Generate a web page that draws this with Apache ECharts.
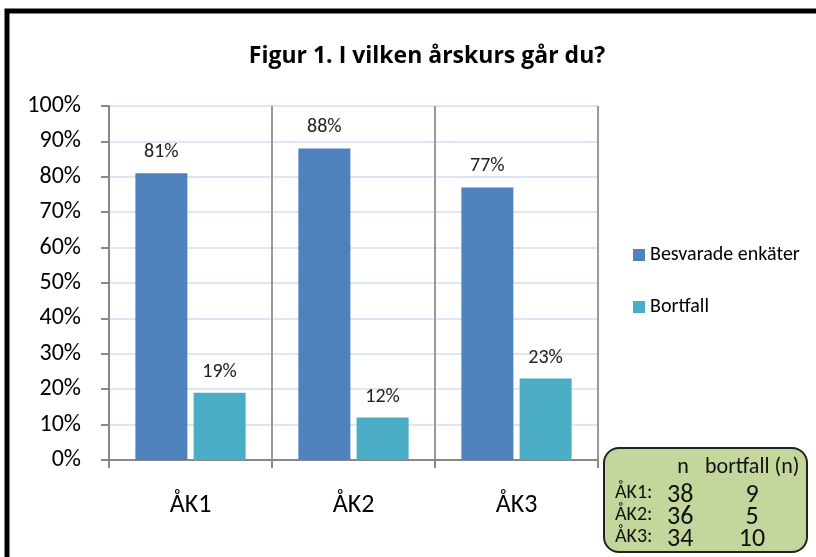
<!DOCTYPE html>
<html>
<head>
<meta charset="utf-8">
<script src="https://cdn.jsdelivr.net/npm/echarts@6/dist/echarts.min.js"></script>
<style>
  html, body { margin: 0; padding: 0; background: #fff; }
  #chart { width: 816px; height: 557px; }
</style>
</head>
<body>
<div id="chart"></div>
<script>
// data
const categories = ['ÅK1', 'ÅK2', 'ÅK3']
const besvarade = [81, 88, 77]
const bortfall = [19, 12, 23]
const yTicks = [0, 10, 20, 30, 40, 50, 60, 70, 80, 90, 100]
const tableHeader = ['n', 'bortfall (n)']
const tableRows = ['ÅK1:', 'ÅK2:', 'ÅK3:']
const tableN = [38, 36, 34]
const tableBortfall = [9, 5, 10]

const font = 'Calibri, Carlito, "Open Sans", "Liberation Sans", sans-serif'
const myChart = echarts.init(document.getElementById('chart'))

// textruta nere till hoger
const boxTexts = []
boxTexts.push({ type: 'text', x: 683, y: 467, z: 11, style: { text: tableHeader[0], font: '22px ' + font, fill: '#111', align: 'center', verticalAlign: 'middle' } })
boxTexts.push({ type: 'text', x: 705, y: 467, z: 11, style: { text: tableHeader[1], font: '22px ' + font, fill: '#111', align: 'left', verticalAlign: 'middle' } })
tableRows.forEach((row, i) => {
  const y = 494 + i * 22
  boxTexts.push({ type: 'text', x: 615, y: y - 1, z: 11, style: { text: row, font: '20px ' + font, fill: '#111', verticalAlign: 'middle' } })
  boxTexts.push({ type: 'text', x: 667, y: y + 1, z: 11, style: { text: String(tableN[i]), font: '26px ' + font, fill: '#111', verticalAlign: 'middle' } })
  boxTexts.push({ type: 'text', x: 752, y: y + 1, z: 11, style: { text: String(tableBortfall[i]), font: '26px ' + font, fill: '#111', align: 'center', verticalAlign: 'middle' } })
})

const option = {
  backgroundColor: '#fff',
  color: ['#4F81BD', '#4BACC6'],
  title: {
    text: 'Figur 1. I vilken årskurs går du?',
    left: 422,
    textAlign: 'center',
    top: 40,
    textStyle: { fontFamily: '"Liberation Sans Narrow", "Open Sans", sans-serif', fontWeight: 'bold', fontSize: 23, color: '#000' }
  },
  legend: {
    orient: 'vertical',
    left: 628,
    top: 240,
    itemWidth: 12,
    itemHeight: 12,
    itemGap: 32,
    icon: 'rect',
    textStyle: { fontFamily: font, fontSize: 20, color: '#000' },
    data: ['Besvarade enkäter', 'Bortfall']
  },
  grid: { left: 109, right: 218, top: 106, bottom: 97 },
  xAxis: {
    type: 'category',
    data: categories,
    axisLine: { lineStyle: { color: '#888', width: 2 } },
    axisTick: { show: true, length: 8, lineStyle: { color: '#888', width: 2 } },
    axisLabel: { fontFamily: font, fontSize: 26, color: '#000', margin: 32 },
    splitLine: { show: true, lineStyle: { color: '#999', width: 2 } }
  },
  yAxis: {
    type: 'value',
    min: 0,
    max: 100,
    interval: 10,
    axisLine: { show: true, lineStyle: { color: '#888', width: 2 } },
    axisTick: { show: true, length: 8, lineStyle: { color: '#888', width: 2 } },
    axisLabel: {
      fontFamily: font, fontSize: 24, color: '#000', margin: 28,
      formatter: v => (yTicks.includes(v) ? v + '%' : '')
    },
    splitLine: { lineStyle: { color: '#dce6f4', width: 2 } }
  },
  series: [
    {
      name: 'Besvarade enkäter',
      type: 'bar',
      data: besvarade,
      barWidth: 52,
      barGap: '12%',
      label: { show: true, position: 'top', distance: 11, formatter: '{c}%', fontFamily: font, fontSize: 20, color: '#222' }
    },
    {
      name: 'Bortfall',
      type: 'bar',
      data: bortfall,
      barWidth: 52,
      label: { show: true, position: 'top', distance: 11, formatter: '{c}%', fontFamily: font, fontSize: 20, color: '#222' }
    }
  ],
  graphic: [
    // svart ram
    { type: 'rect', shape: { x: 7, y: 11, width: 830, height: 560 }, style: { fill: 'none', stroke: '#000', lineWidth: 5 }, silent: true },
    {
      type: 'rect',
      shape: { x: 604, y: 448, width: 203, height: 104, r: 15 },
      style: { fill: '#c3d69b', stroke: '#222', lineWidth: 2 },
      z: 10
    }
  ].concat(boxTexts)
}
myChart.setOption(option)
</script>
</body>
</html>
